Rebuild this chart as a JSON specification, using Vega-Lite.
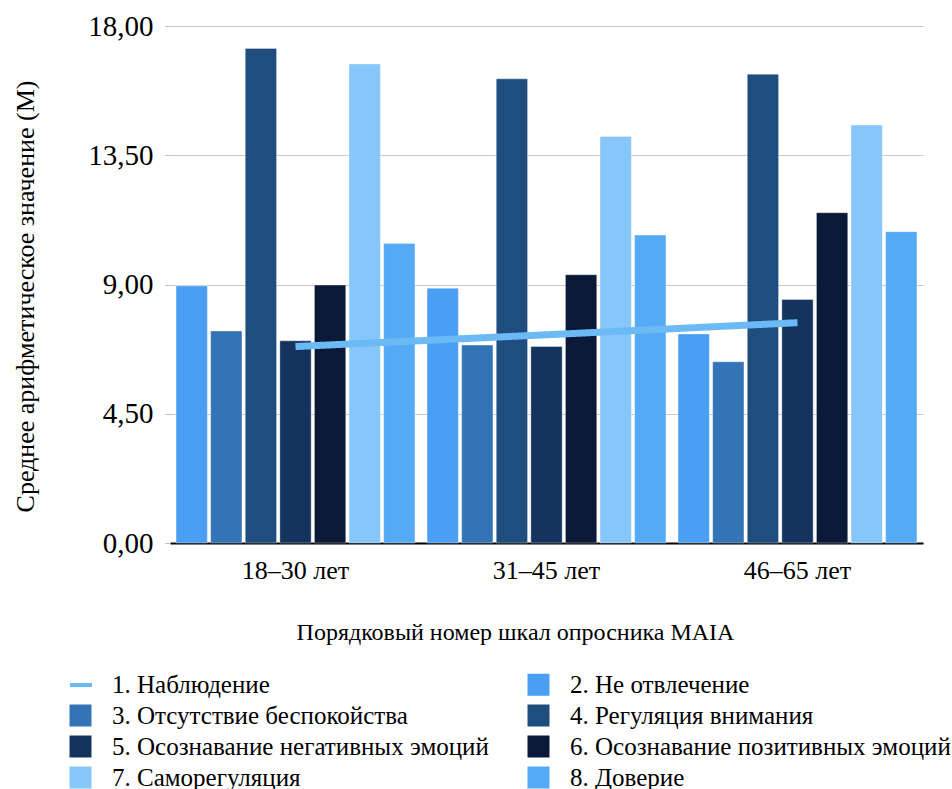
{
  "$schema": "https://vega.github.io/schema/vega-lite/v6.json",
  "width": 753,
  "height": 517,
  "autosize": "none",
  "padding": {"left": 170, "top": 26, "right": 29, "bottom": 246},
  "background": "white",
  "config": {
    "font": "Liberation Serif",
    "view": {"stroke": null}
  },
  "datasets": {
    "bars": [
      {"group": "18–30 лет", "series": "2. Не отвлечение", "value": 8.95},
      {"group": "18–30 лет", "series": "3. Отсутствие беспокойства", "value": 7.38},
      {"group": "18–30 лет", "series": "4. Регуляция внимания", "value": 17.22},
      {"group": "18–30 лет", "series": "5. Осознавание негативных эмоций", "value": 7.04},
      {"group": "18–30 лет", "series": "6. Осознавание позитивных эмоций", "value": 8.98},
      {"group": "18–30 лет", "series": "7. Саморегуляция", "value": 16.68},
      {"group": "18–30 лет", "series": "8. Доверие", "value": 10.43},
      {"group": "31–45 лет", "series": "2. Не отвлечение", "value": 8.87},
      {"group": "31–45 лет", "series": "3. Отсутствие беспокойства", "value": 6.89},
      {"group": "31–45 лет", "series": "4. Регуляция внимания", "value": 16.16},
      {"group": "31–45 лет", "series": "5. Осознавание негативных эмоций", "value": 6.84},
      {"group": "31–45 лет", "series": "6. Осознавание позитивных эмоций", "value": 9.34},
      {"group": "31–45 лет", "series": "7. Саморегуляция", "value": 14.15},
      {"group": "31–45 лет", "series": "8. Доверие", "value": 10.72},
      {"group": "46–65 лет", "series": "2. Не отвлечение", "value": 7.28},
      {"group": "46–65 лет", "series": "3. Отсутствие беспокойства", "value": 6.31},
      {"group": "46–65 лет", "series": "4. Регуляция внимания", "value": 16.32},
      {"group": "46–65 лет", "series": "5. Осознавание негативных эмоций", "value": 8.48},
      {"group": "46–65 лет", "series": "6. Осознавание позитивных эмоций", "value": 11.5},
      {"group": "46–65 лет", "series": "7. Саморегуляция", "value": 14.55},
      {"group": "46–65 лет", "series": "8. Доверие", "value": 10.84}
    ],
    "line": [
      {"group": "18–30 лет", "series": "1. Наблюдение", "value": 6.84},
      {"group": "31–45 лет", "series": "1. Наблюдение", "value": 7.25},
      {"group": "46–65 лет", "series": "1. Наблюдение", "value": 7.67}
    ]
  },
  "encoding": {
    "x": {
      "field": "group",
      "type": "nominal",
      "sort": ["18–30 лет", "31–45 лет", "46–65 лет"],
      "scale": {"paddingInner": 0, "paddingOuter": 0},
      "axis": {
        "title": "Порядковый номер шкал опросника MAIA",
        "titleFontSize": 24,
        "titleFontWeight": "normal",
        "titleColor": "#000",
        "titlePadding": 37,
        "titleX": 345,
        "labelFontSize": 26,
        "labelColor": "#000",
        "labelAngle": 0,
        "labelPadding": 14,
        "ticks": false,
        "domainColor": "#000",
        "domainWidth": 2
      }
    },
    "y": {
      "field": "value",
      "type": "quantitative",
      "scale": {"domain": [0, 18], "nice": false},
      "axis": {
        "title": "Среднее арифметическое значение (М)",
        "titleFontSize": 26,
        "titleFontWeight": "normal",
        "titleColor": "#000",
        "titlePadding": 49,
        "titleY": 270,
        "values": [0, 4.5, 9, 13.5, 18],
        "labelExpr": "replace(format(datum.value, '.2f'), '.', ',')",
        "labelFontSize": 29,
        "labelColor": "#000",
        "labelPadding": 12,
        "domain": false,
        "tickSize": 5,
        "tickColor": "#bbbbbb",
        "gridColor": "#c8c8c8",
        "gridWidth": 1.2
      }
    }
  },
  "layer": [
    {
      "data": {"name": "bars"},
      "mark": {"type": "bar", "stroke": "#ffffff", "strokeWidth": 0.6, "strokeOpacity": 0.6},
      "encoding": {
        "xOffset": {
          "field": "series",
          "type": "nominal",
          "scale": {"paddingInner": 0.095, "paddingOuter": 0.175}
        },
        "color": {
          "field": "series",
          "type": "nominal",
          "scale": {
            "domain": ["1. Наблюдение", "2. Не отвлечение", "3. Отсутствие беспокойства", "4. Регуляция внимания", "5. Осознавание негативных эмоций", "6. Осознавание позитивных эмоций", "7. Саморегуляция", "8. Доверие"],
            "range": ["#ffffff", "#4A9FF5", "#3374B6", "#1F4D7E", "#14345E", "#0A1937", "#86C6FA", "#55AAF6"]
          },
          "legend": {
            "title": null,
            "orient": "none",
            "direction": "horizontal",
            "legendX": -102,
            "legendY": 646,
            "columns": 2,
            "columnPadding": 37,
            "rowPadding": 5,
            "padding": 0,
            "symbolType": "square",
            "symbolSize": 484,
            "symbolStrokeWidth": 0,
            "symbolOpacity": 1,
            "labelOffset": 19,
            "labelFontSize": 25,
            "labelColor": "#000",
            "labelLimit": 600
          }
        }
      }
    },
    {
      "data": {"name": "line"},
      "mark": {"type": "line", "strokeWidth": 7, "strokeCap": "butt", "color": "#6BBAF5"},
      "encoding": {
        "strokeDash": {
          "field": "series",
          "type": "nominal",
          "scale": {"domain": ["1. Наблюдение"], "range": [[1, 0]]},
          "legend": {
            "title": null,
            "orient": "none",
            "legendX": -102,
            "legendY": 646,
            "padding": 0,
            "symbolType": "stroke",
            "symbolSize": 484,
            "symbolStrokeWidth": 4,
            "symbolStrokeColor": "#6BBAF5",
            "symbolDash": [1, 0],
            "labelOffset": 19,
            "labelFontSize": 25,
            "labelExpr": "''"
          }
        }
      }
    }
  ]
}
